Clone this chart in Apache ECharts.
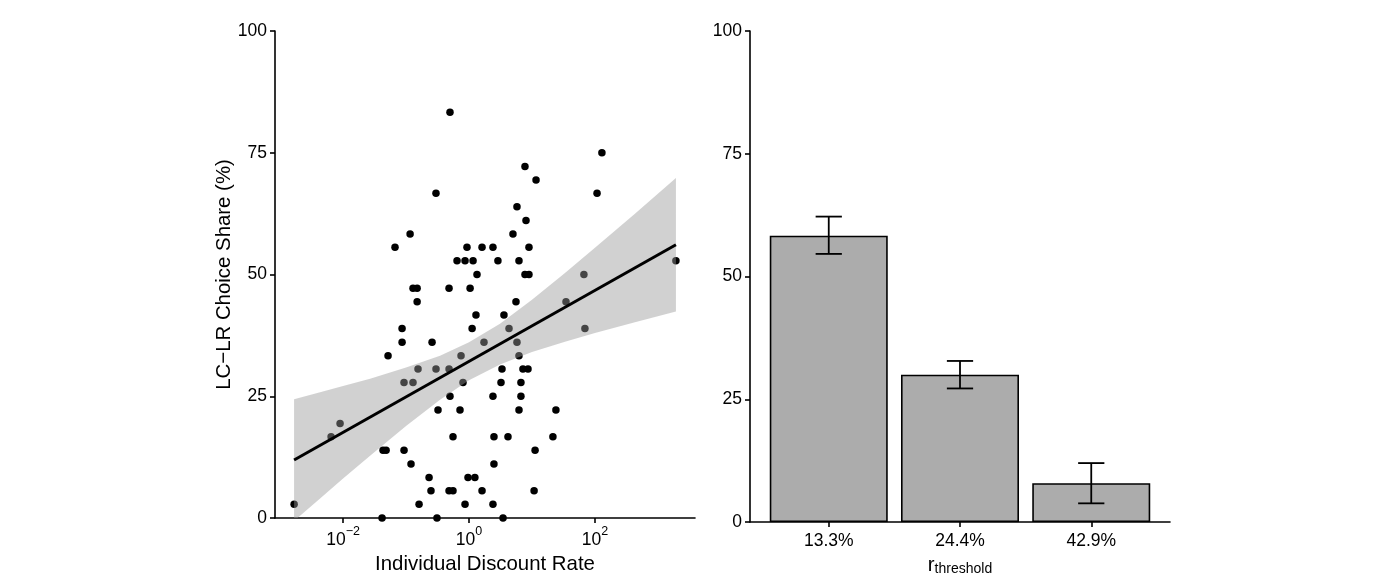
<!DOCTYPE html>
<html><head><meta charset="utf-8">
<script src="https://cdn.jsdelivr.net/npm/echarts@6/dist/echarts.min.js"></script>
<style>html,body{margin:0;padding:0;background:#fff}#c{width:1378px;height:582px}</style>
</head><body><div id="c"></div>
<script>
// ---- left panel: individual participants ----
const discountRate = [0.499, 0.299, 0.116, 0.0668, 0.929, 0.645, 0.865, 7.74, 11.6, 129, 108, 5.78, 8.04, 4.99, 1.61, 2.40, 8.96, 1.16, 2.88, 6.22, 1.34, 7.74, 8.96, 66.8, 0.129, 0.150, 0.482, 1.04, 0.150, 5.57, 34.7, 1.29, 3.59, 0.0865, 1.12, 4.32, 69.3, 0.0865, 0.259, 1.73, 5.78, 0.0518, 0.747, 6.22, 0.155, 0.299, 0.482, 3.34, 7.19, 8.65, 0.0929, 0.129, 0.803, 3.22, 6.68, 0.499, 2.40, 6.68, 0.322, 0.719, 6.22, 24.0, 0.00896, 0.00645, 0.557, 2.49, 4.16, 21.5, 0.0431, 0.0482, 0.0929, 11.2, 0.120, 2.49, 0.232, 0.964, 1.24, 0.249, 0.482, 0.557, 1.61, 10.8, 0.00167, 0.161, 0.865, 2.40, 0.0416, 0.310, 3.47, 1930];
const choiceShare = [83.3, 66.7, 58.3, 55.6, 55.6, 52.8, 52.8, 72.2, 69.4, 75.0, 66.7, 63.9, 61.1, 58.3, 55.6, 55.6, 55.6, 52.8, 52.8, 52.8, 50.0, 50.0, 50.0, 50.0, 47.2, 47.2, 47.2, 47.2, 44.4, 44.4, 44.4, 41.7, 41.7, 38.9, 38.9, 38.9, 38.9, 36.1, 36.1, 36.1, 36.1, 33.3, 33.3, 33.3, 30.6, 30.6, 30.6, 30.6, 30.6, 30.6, 27.8, 27.8, 27.8, 27.8, 27.8, 25.0, 25.0, 25.0, 22.2, 22.2, 22.2, 22.2, 19.4, 16.7, 16.7, 16.7, 16.7, 16.7, 13.9, 13.9, 13.9, 13.9, 11.1, 11.1, 8.3, 8.3, 8.3, 5.6, 5.6, 5.6, 5.6, 5.6, 2.8, 2.8, 2.8, 2.8, 0, 0, 0, 52.8];
// regression fit (log10 of rate) and its confidence band
const fitLog10Rate = [-2.778, 3.286];
const fitShare = [11.9, 56.1];
const bandLog10Rate = [-2.778, -2.365, -2.0, -1.571, -1.0, -0.460, 0.0, 0.492, 1.0, 1.524, 2.0, 2.635, 3.286];
const bandUpper = [24.4, 25.8, 27.1, 28.6, 30.9, 33.3, 36.1, 39.9, 44.8, 50.3, 55.5, 62.5, 69.8];
const bandLower = [-0.6, 4.0, 8.1, 12.8, 18.9, 24.3, 28.3, 31.5, 34.1, 36.2, 38.0, 40.2, 42.4];
const xTickExponents = [-2, 0, 2];
// ---- right panel: threshold groups ----
const thresholdLabels = ['13.3%', '24.4%', '42.9%'];
const barMeans = [58.3, 30.0, 7.9];
const barErrLow = [54.6, 27.2, 3.8];
const barErrHigh = [62.2, 32.8, 12.0];

const FONT = '"Liberation Sans", Arial, Helvetica, sans-serif';
const chart = echarts.init(document.getElementById('c'));

const axisLine = {show: true, onZero: false, lineStyle: {color: '#000', width: 1.6}};
const axisTick = {show: true, inside: false, length: 5, lineStyle: {color: '#000', width: 1.6}};
const labelBase = {color: '#000', fontFamily: FONT, fontSize: 17.5};

const scatterData = discountRate.map((r, i) => [Math.log10(r), choiceShare[i]]);
const bandData = bandLog10Rate.map((x, i) => [x, bandLower[i], bandUpper[i]]);

chart.setOption({
  backgroundColor: '#fff',
  animation: false,
  textStyle: {fontFamily: FONT},
  grid: [
    {left: 275, top: 31, width: 420, height: 487},
    {left: 750, top: 31, width: 420, height: 491}
  ],
  xAxis: [
    {
      type: 'value', gridIndex: 0, min: -3.081, max: 3.589,
      axisLine, splitLine: {show: false},
      axisTick: Object.assign({}, axisTick, {customValues: xTickExponents}),
      axisLabel: {
        customValues: xTickExponents, margin: 7,
        formatter: v => '{b|10}{s|' + (v < 0 ? '\u2212' : '') + Math.abs(v) + '}',
        rich: {
          b: Object.assign({}, labelBase, {verticalAlign: 'bottom', padding: [6, 0, 0, 0]}),
          s: Object.assign({}, labelBase, {fontSize: 12.5, verticalAlign: 'top'})
        }
      },
      name: 'Individual Discount Rate', nameLocation: 'middle', nameGap: 31,
      nameTextStyle: {color: '#000', fontFamily: FONT, fontSize: 20.4}
    },
    {
      type: 'value', gridIndex: 1, min: 0.4, max: 3.6,
      axisLine, splitLine: {show: false},
      axisTick: Object.assign({}, axisTick, {customValues: [1, 2, 3]}),
      axisLabel: Object.assign({}, labelBase, {
        customValues: [1, 2, 3], margin: 10,
        formatter: v => thresholdLabels[Math.round(v) - 1]
      }),
      name: '{r|r}{s|threshold}', nameLocation: 'middle', nameGap: 22,
      nameTextStyle: {
        rich: {
          r: {color: '#000', fontFamily: FONT, fontSize: 20.4, verticalAlign: 'bottom', padding: [0, 0, 1, 0]},
          s: {color: '#000', fontFamily: FONT, fontSize: 14, verticalAlign: 'bottom'}
        }
      }
    }
  ],
  yAxis: [
    {
      type: 'value', gridIndex: 0, min: 0, max: 100, interval: 25,
      axisLine, axisTick, splitLine: {show: false},
      axisLabel: Object.assign({}, labelBase, {margin: 8}),
      name: 'LC\u2212LR Choice Share (%)', nameLocation: 'middle', nameGap: 34, nameRotate: 90,
      nameTextStyle: {color: '#000', fontFamily: FONT, fontSize: 20.4}
    },
    {
      type: 'value', gridIndex: 1, min: 0, max: 100, interval: 25,
      axisLine, axisTick, splitLine: {show: false},
      axisLabel: Object.assign({}, labelBase, {margin: 8})
    }
  ],
  series: [
    {
      type: 'scatter', xAxisIndex: 0, yAxisIndex: 0, z: 2,
      symbol: 'circle', symbolSize: 7.5,
      itemStyle: {color: '#000', opacity: 1},
      data: scatterData, silent: true
    },
    {
      type: 'custom', xAxisIndex: 0, yAxisIndex: 0, z: 3, clip: true, silent: true,
      data: bandData,
      renderItem: (params, api) => {
        if (params.dataIndex !== 0) return null;
        const up = bandData.map(d => api.coord([d[0], d[2]]));
        const lo = bandData.map(d => api.coord([d[0], d[1]])).reverse();
        return {
          type: 'polygon',
          shape: {points: up.concat(lo)},
          style: {fill: 'rgba(153,153,153,0.45)', stroke: null}
        };
      }
    },
    {
      type: 'line', xAxisIndex: 0, yAxisIndex: 0, z: 4, silent: true,
      symbol: 'none', lineStyle: {color: '#000', width: 3},
      data: fitLog10Rate.map((x, i) => [x, fitShare[i]])
    },
    {
      type: 'bar', xAxisIndex: 1, yAxisIndex: 1, z: 2, silent: true,
      barWidth: 118,
      itemStyle: {color: '#ACACAC', borderColor: '#000', borderWidth: 1.6},
      data: barMeans.map((m, i) => [i + 1, m])
    },
    {
      type: 'custom', xAxisIndex: 1, yAxisIndex: 1, z: 5, silent: true,
      data: barMeans.map((m, i) => [i + 1, barErrLow[i], barErrHigh[i]]),
      renderItem: (params, api) => {
        const x = api.value(0);
        const pLo = api.coord([x, api.value(1)]);
        const pHi = api.coord([x, api.value(2)]);
        const hw = api.size([0.2, 0])[0] / 2;
        const st = {stroke: '#000', lineWidth: 1.8};
        return {
          type: 'group',
          children: [
            {type: 'line', shape: {x1: pLo[0], y1: pLo[1], x2: pHi[0], y2: pHi[1]}, style: st},
            {type: 'line', shape: {x1: pHi[0] - hw, y1: pHi[1], x2: pHi[0] + hw, y2: pHi[1]}, style: st},
            {type: 'line', shape: {x1: pLo[0] - hw, y1: pLo[1], x2: pLo[0] + hw, y2: pLo[1]}, style: st}
          ]
        };
      }
    }
  ]
});
</script>
</body></html>
